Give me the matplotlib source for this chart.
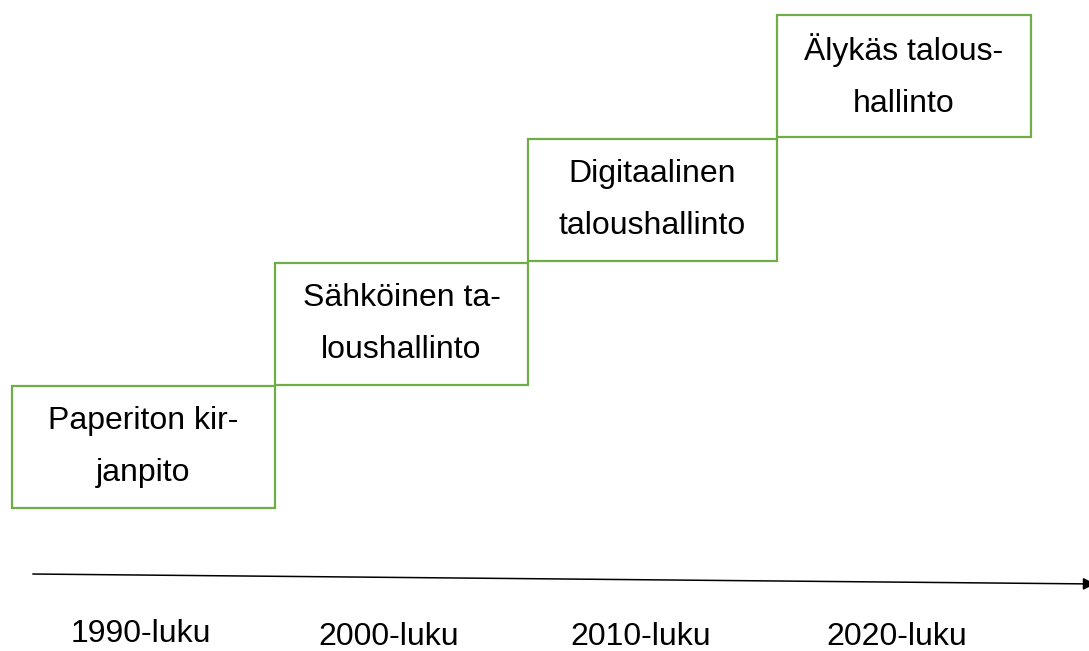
import matplotlib.pyplot as plt
from matplotlib.patches import Rectangle

# stage labels (bottom to top) and decade labels
stages = ["Paperiton kir-\njanpito", "Sähköinen ta-\nloushallinto",
          "Digitaalinen\ntaloushallinto", "Älykäs talous-\nhallinto"]
decades = ["1990-luku", "2000-luku", "2010-luku", "2020-luku"]

# layout in pixel coordinates
box_edges = [12, 275, 528, 777, 1031]
box_tops = [386, 263, 139, 15]
box_h = 122
decade_x = [141, 389, 641, 897]
decade_y = [634, 637, 637, 637]

green = "#70AD47"

plt.rcParams['font.family'] = ['Liberation Sans', 'DejaVu Sans']

fig = plt.figure(figsize=(10.89, 6.51), dpi=100)
ax = fig.add_axes([0, 0, 1, 1])
ax.set_xlim(0, 1089)
ax.set_ylim(651, 0)
ax.axis("off")

for i, label in enumerate(stages):
    x0 = box_edges[i]
    w = box_edges[i + 1] - x0
    ax.add_patch(Rectangle((x0, box_tops[i]), w, box_h, fill=False,
                           edgecolor=green, linewidth=1.6))
    ax.text(x0 + w / 2, box_tops[i] + box_h / 2, label, ha="center",
            va="center", fontsize=23, linespacing=1.93, color="black")

# timeline arrow
ax.annotate("", xy=(1098, 584), xytext=(30, 574),
            arrowprops=dict(arrowstyle="-|>", color="black", lw=1.1,
                            mutation_scale=18), annotation_clip=False)

for i, d in enumerate(decades):
    ax.text(decade_x[i], decade_y[i], d, ha="center", va="center",
            fontsize=23, color="black")

fig.savefig("out.png", dpi=100)
